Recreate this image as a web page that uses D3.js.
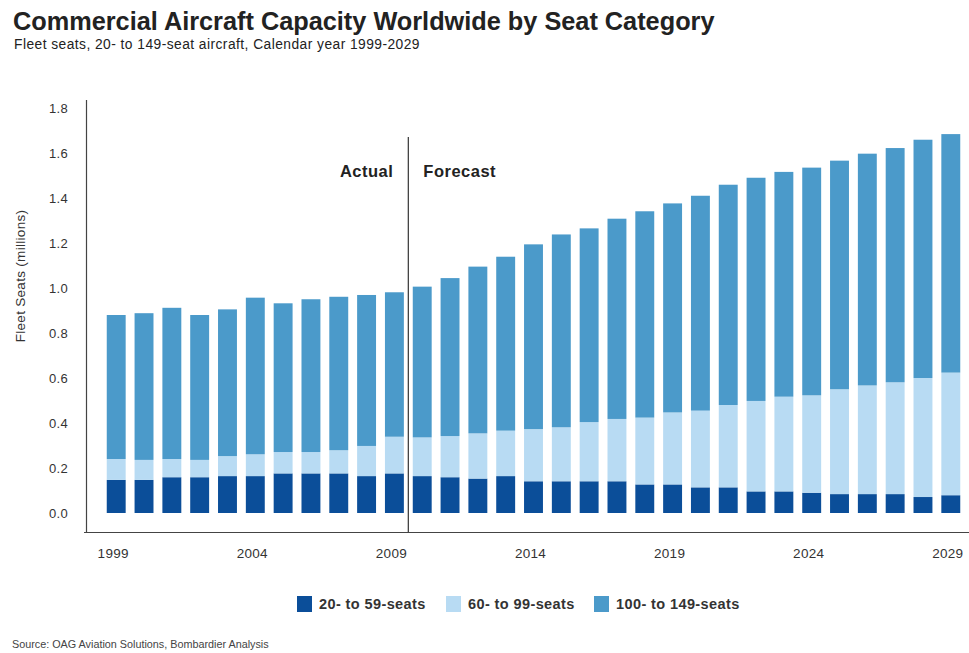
<!DOCTYPE html>
<html><head><meta charset="utf-8">
<script src="https://cdn.jsdelivr.net/npm/d3@7"></script>
<style>
html,body{margin:0;padding:0;background:#fff;}
svg{display:block;font-family:"Liberation Sans",Arial,sans-serif;}
</style></head>
<body>
<svg id="c" width="969" height="653"></svg>
<script>
const years = d3.range(1999, 2030).map(String);
const seats20to59 = [0.147,0.147,0.159,0.159,0.164,0.164,0.176,0.176,0.176,0.164,0.176,
  0.164,0.159,0.153,0.164,0.141,0.141,0.141,0.141,0.127,0.127,0.114,0.114,0.096,0.096,0.090,0.084,0.084,0.084,0.071,0.079];
const seats60to99 = [0.093,0.089,0.081,0.077,0.089,0.097,0.095,0.095,0.103,0.134,0.163,
  0.172,0.183,0.201,0.202,0.232,0.240,0.263,0.277,0.297,0.320,0.341,0.366,0.402,0.421,0.433,0.466,0.483,0.497,0.529,0.545];
const seats100to149 = [0.640,0.652,0.672,0.644,0.652,0.696,0.661,0.679,0.682,0.671,0.642,
  0.670,0.702,0.741,0.773,0.821,0.857,0.861,0.890,0.917,0.929,0.955,0.979,0.992,0.999,1.012,1.016,1.030,1.041,1.059,1.060];
const seriesNames = ["20- to 59-seats","60- to 99-seats","100- to 149-seats"];
const seriesColors = ["#0b4e99","#b8dbf3","#4b9aca"];
const yTicks = [0,0.2,0.4,0.6,0.8,1.0,1.2,1.4,1.6,1.8];
const xLabelYears = ["1999","2004","2009","2014","2019","2024","2029"];
const lastActual = "2009";

const svg = d3.select("#c");
const keys = ["s","m","l"];
const table = years.map((y,i)=>({year:y, s:seats20to59[i], m:seats60to99[i], l:seats100to149[i]}));
const stacked = d3.stack().keys(keys)(table);

const x = d3.scaleBand().domain(years).range([102.3, 964.7]).paddingInner(0.32).paddingOuter(0.16);
const y = d3.scaleLinear().domain([0,1.8]).range([513,108]);

// title
svg.append("text").attr("x",13).attr("y",30).attr("font-size",25.3).attr("font-weight","bold")
  .attr("fill","#222").text("Commercial Aircraft Capacity Worldwide by Seat Category");
svg.append("text").attr("x",14).attr("y",49).attr("font-size",13.8).attr("letter-spacing",0.45).attr("fill","#222")
  .text("Fleet seats, 20- to 149-seat aircraft, Calendar year 1999-2029");

// bars
svg.append("g").selectAll("g").data(stacked).join("g")
  .attr("fill",(d,i)=>seriesColors[i])
  .selectAll("rect").data(d=>d).join("rect")
  .attr("x",d=>x(d.data.year)).attr("width",x.bandwidth())
  .attr("y",d=>y(d[1])).attr("height",d=>y(d[0])-y(d[1]));

// frame lines
svg.append("line").attr("x1",86.5).attr("x2",86.5).attr("y1",100).attr("y2",532).attr("stroke","#444").attr("stroke-width",1.2);
svg.append("line").attr("x1",84).attr("x2",969).attr("y1",532.5).attr("y2",532.5).attr("stroke","#444").attr("stroke-width",1.2);
const divX = x(lastActual) + x.bandwidth() + x.step()*x.paddingInner()/2;
svg.append("line").attr("x1",divX).attr("x2",divX).attr("y1",137).attr("y2",532).attr("stroke","#333").attr("stroke-width",1.2);

svg.append("text").attr("x",divX-15).attr("y",177).attr("text-anchor","end").attr("font-size",16.5).attr("letter-spacing",0.5).attr("font-weight","bold").attr("fill","#222").text("Actual");
svg.append("text").attr("x",divX+15).attr("y",177).attr("font-size",16.5).attr("letter-spacing",0.5).attr("font-weight","bold").attr("fill","#222").text("Forecast");

// y axis
const yAxis = svg.append("g").attr("transform","translate(68,0)")
  .call(d3.axisLeft(y).tickValues(yTicks).tickSize(0).tickPadding(0).tickFormat(d3.format(".1f")));
yAxis.select(".domain").remove();
yAxis.selectAll("text").attr("font-size",13).attr("letter-spacing",0.3).attr("fill","#333").attr("font-family","Liberation Sans, Arial, sans-serif");

svg.append("text").attr("transform","translate(25,276) rotate(-90)").attr("text-anchor","middle")
  .attr("font-size",13.5).attr("letter-spacing",0.3).attr("fill","#333").text("Fleet Seats (millions)");

// x axis
const xAxis = svg.append("g").attr("transform","translate(-3,548)")
  .call(d3.axisBottom(x).tickValues(xLabelYears).tickSize(0).tickPadding(0));
xAxis.select(".domain").remove();
xAxis.selectAll("text").attr("font-size",13.5).attr("letter-spacing",0.3).attr("fill","#333").attr("font-family","Liberation Sans, Arial, sans-serif");

// legend
const legendX = [297, 446, 594];
const lg = svg.append("g").selectAll("g").data(seriesNames).join("g")
  .attr("transform",(d,i)=>`translate(${legendX[i]},596)`);
lg.append("rect").attr("width",15).attr("height",16).attr("fill",(d,i)=>seriesColors[i]);
lg.append("text").attr("x",22).attr("y",13).attr("font-size",14.5).attr("letter-spacing",0.4).attr("font-weight","bold").attr("fill","#333").text(d=>d);

svg.append("text").attr("x",12).attr("y",648).attr("font-size",10.8).attr("fill","#444")
  .text("Source: OAG Aviation Solutions, Bombardier Analysis");
</script>
</body></html>
